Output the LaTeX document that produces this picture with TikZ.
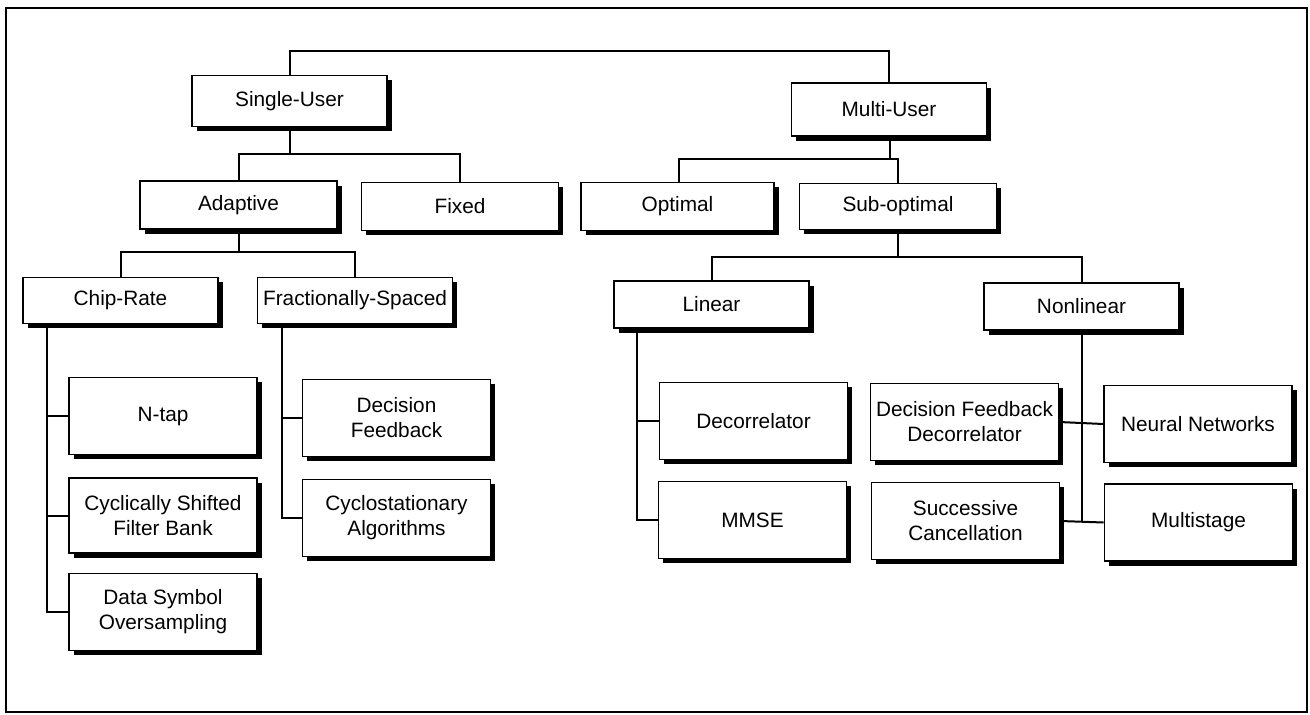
\documentclass[tikz,border=0pt]{standalone}
\usepackage{fontspec}
\setmainfont{Liberation Sans}
\usetikzlibrary{shadows}
\begin{document}
\begin{tikzpicture}[x=1pt,y=-1pt,
  box/.style={draw, fill=white, line width=1.6pt, inner sep=0pt, align=center,
    font=\fontsize{20.8}{25}\selectfont,
    drop shadow={fill=black, opacity=1, shadow xshift=4.5pt, shadow yshift=-4.5pt}},
  lvlA/.style={box, minimum width=195pt, minimum height=51pt},
  lvlB/.style={box, minimum width=197pt, minimum height=48pt},
  lvlC/.style={box, minimum width=195pt, minimum height=46pt},
  leaf/.style={box, minimum width=188pt, minimum height=77pt},
  conn/.style={line width=2pt}]
\useasboundingbox (0,0) rectangle (1310,715);
\draw[line width=1.2pt] (6,8) rectangle (1307,712);

% coordinates for junctions
\coordinate (t0) at (590,51);
\coordinate (j1) at (290,154);
\coordinate (j2) at (890,159);
\coordinate (j3) at (238.5,252);
\coordinate (j4) at (898,257);

% connectors first (boxes drawn over them)
\draw[conn] (290,101) |- (t0) -| (889,109);
\draw[conn] (290,101) -- (j1);
\draw[conn] (238.5,205) |- (j1) -| (460,206);
\draw[conn] (890,109) -- (j2);
\draw[conn] (679,206) |- (j2) -| (898,206);
\draw[conn] (898,206) -- (j4);
\draw[conn] (238.5,205) -- (j3);
\draw[conn] (120.5,300) |- (j3) -| (355,300);
\draw[conn] (711.5,304) |- (j4) -| (1082,306);

% nodes
\node[lvlA] (single) at (289.5,101) {Single-User};
\node[lvlA, minimum height=53pt] (multi) at (889,109.5) {Multi-User};
\node[lvlB] (adaptive) at (238.5,205) {Adaptive};
\node[lvlB] (fixed) at (460,206.5) {Fixed};
\node[lvlB, minimum width=193pt] (optimal) at (677.5,206.5) {Optimal};
\node[lvlB, minimum height=46pt] (subopt) at (898,206.5) {Sub-optimal};
\node[lvlC] (chip) at (120.5,300.5) {Chip-Rate};
\node[lvlC] (frac) at (355,300.5) {Fractionally-Spaced};
\node[lvlC, minimum height=47pt] (linear) at (711.5,304.5) {Linear};
\node[lvlC, minimum height=47pt] (nonlin) at (1081.5,306.5) {Nonlinear};

\node[leaf] (ntap) at (163,416) {N-tap};
\node[leaf, minimum height=75pt] (cyclic) at (163,515.5) {Cyclically Shifted\\Filter Bank};
\node[leaf] (datasym) at (163,612) {Data Symbol\\Oversampling};
\node[leaf] (decfb) at (396.5,418) {Decision\\Feedback};
\node[leaf] (cyclo) at (396.5,518) {Cyclostationary\\Algorithms};
\node[leaf] (decorr) at (753.5,421) {Decorrelator};
\node[leaf] (mmse) at (752.5,520) {MMSE};
\node[leaf] (dfd) at (964.5,422) {Decision Feedback\\Decorrelator};
\node[leaf] (neural) at (1198,424) {Neural Networks};
\node[leaf] (succ) at (965.5,521) {Successive\\Cancellation};
\node[leaf] (multist) at (1198.5,522.5) {Multistage};

% spines
\coordinate (cs) at ([xshift=25pt]chip.south west);
\coordinate (fs) at ([xshift=25pt]frac.south west);
\coordinate (ls) at ([xshift=24pt]linear.south west);
\draw[conn] (cs) |- (datasym.west);
\draw[conn] (ntap.west) -- (ntap.west -| cs);
\draw[conn] (cyclic.west) -- (cyclic.west -| cs);
\draw[conn] (fs) |- (cyclo.west);
\draw[conn] (decfb.west) -- (decfb.west -| fs);
\draw[conn] (ls) |- (mmse.west);
\draw[conn] (decorr.west) -- (decorr.west -| ls);
\draw[conn] (nonlin.south) -- (nonlin.south |- succ.east);
\draw[conn] (dfd.east) -- (neural.west);
\draw[conn] (succ.east) -- (multist.west);
\end{tikzpicture}
\end{document}
